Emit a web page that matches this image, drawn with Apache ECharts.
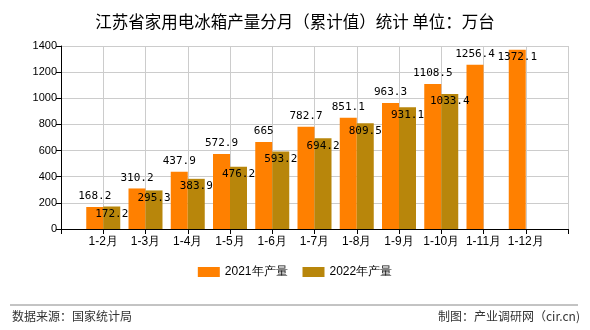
<!DOCTYPE html>
<html>
<head>
<meta charset="utf-8">
<script src="https://cdn.jsdelivr.net/npm/echarts@6/dist/echarts.min.js"></script>
<style>
html,body{margin:0;padding:0;background:#fff;}
#chart{width:590px;height:330px;}
</style>
</head>
<body>
<div id="chart"></div>
<script>
// 江苏省家用电冰箱产量（累计值），单位：万台
const months = ['1-2月','1-3月','1-4月','1-5月','1-6月','1-7月','1-8月','1-9月','1-10月','1-11月','1-12月'];
const prod2021 = [168.2, 310.2, 437.9, 572.9, 665, 782.7, 851.1, 963.3, 1108.5, 1256.4, 1372.1];
const prod2022 = [172.2, 295.3, 383.9, 476.2, 593.2, 694.2, 809.5, 931.1, 1033.4];
const yTicks = [0, 200, 400, 600, 800, 1000, 1200, 1400];

// an empty slot at each end of the category axis
const categories = [''].concat(months, ['']);
function pad(arr) {
  const out = [null];
  for (let i = 0; i < months.length; i++) out.push(i < arr.length ? arr[i] : null);
  out.push(null);
  return out;
}

const labelFont = { fontFamily: 'DejaVu Sans Mono', fontSize: 11, color: '#000' };

const data2021 = pad(prod2021).map((v, i) => {
  // the last bar reaches the top edge, so its label sits inside
  if (v !== null && i === months.length) {
    return { value: v, label: { position: 'insideTop', distance: 2 } };
  }
  return v;
});

const chart = echarts.init(document.getElementById('chart'), null, { renderer: 'canvas' });
chart.setOption({
  animation: false,
  title: {
    text: '江苏省家用电冰箱产量分月（累计值）统计 单位：万台',
    left: 'center',
    top: 8,
    textStyle: { fontSize: 16.5, fontWeight: 'normal', color: '#000', fontFamily: 'Noto Sans CJK SC' }
  },
  grid: { left: 61, right: 22, top: 46, bottom: 101 },
  legend: {
    bottom: 47,
    left: 'center',
    itemWidth: 22,
    itemHeight: 10,
    itemGap: 15,
    icon: 'rect',
    textStyle: { fontSize: 12, color: '#000', fontFamily: 'Liberation Sans' },
    data: ['2021年产量', '2022年产量']
  },
  xAxis: {
    type: 'category',
    data: categories,
    boundaryGap: false,
    axisLine: { lineStyle: { color: '#000' } },
    axisTick: { show: true, length: 5, lineStyle: { color: '#000' } },
    axisLabel: { interval: 0, color: '#000', fontSize: 12, margin: 7, fontFamily: 'Liberation Sans' },
    splitLine: { show: true, lineStyle: { color: '#ccc' } }
  },
  yAxis: {
    type: 'value',
    min: yTicks[0],
    max: yTicks[yTicks.length - 1],
    interval: yTicks[1] - yTicks[0],
    axisLine: { show: true, lineStyle: { color: '#000' } },
    axisTick: { show: true, length: 5, lineStyle: { color: '#000' } },
    axisLabel: {
      color: '#000', fontSize: 11, margin: 4, fontFamily: 'Liberation Sans',
      formatter: (v) => String(v)
    },
    splitLine: { show: true, lineStyle: { color: '#ccc' } }
  },
  series: [
    {
      name: '2021年产量',
      type: 'bar',
      data: data2021,
      barWidth: 17,
      barGap: '0%',
      itemStyle: { color: '#FF8000' },
      label: Object.assign({ show: true, position: 'top', distance: 5 }, labelFont)
    },
    {
      name: '2022年产量',
      type: 'bar',
      data: pad(prod2022),
      barWidth: 17,
      barGap: '0%',
      itemStyle: { color: '#B8860B' },
      label: Object.assign({ show: true, position: 'insideTop', distance: 2 }, labelFont)
    }
  ],
  graphic: [
    {
      type: 'line',
      shape: { x1: 10, y1: 305, x2: 578, y2: 305 },
      style: { stroke: '#888', lineWidth: 1 }
    },
    {
      type: 'text',
      left: 12,
      top: 310,
      style: { text: '数据来源：国家统计局', fontSize: 12, fill: '#333', fontFamily: 'Noto Sans CJK SC' }
    },
    {
      type: 'text',
      right: 10,
      top: 310,
      style: { text: '制图：产业调研网（cir.cn)', fontSize: 12, fill: '#333', fontFamily: 'Noto Sans CJK SC' }
    }
  ]
});
</script>
</body>
</html>
